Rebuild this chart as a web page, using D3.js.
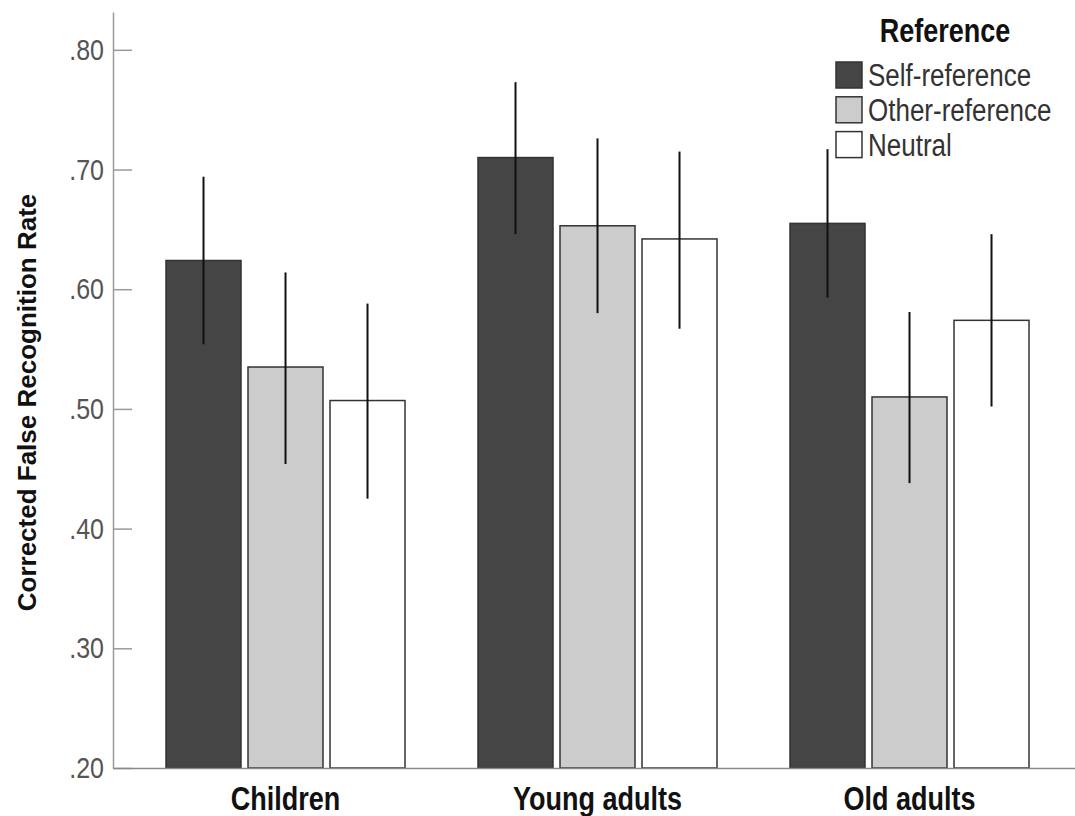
<!DOCTYPE html>
<html>
<head>
<meta charset="utf-8">
<script src="https://cdn.jsdelivr.net/npm/d3@7"></script>
<style>
  html, body { margin: 0; padding: 0; background: #fff; }
  svg { display: block; font-family: "Liberation Sans", Arial, sans-serif; }
</style>
</head>
<body>
<svg id="chart" width="1075" height="816"></svg>
<script>
// ---- Data ----
const groups = ["Children", "Young adults", "Old adults"];
const series = ["Self-reference", "Other-reference", "Neutral"];
const means = {
  "Self-reference":  [0.624, 0.710, 0.655],
  "Other-reference": [0.535, 0.653, 0.510],
  "Neutral":         [0.507, 0.642, 0.574]
};
const ciLow = {
  "Self-reference":  [0.554, 0.646, 0.593],
  "Other-reference": [0.454, 0.580, 0.438],
  "Neutral":         [0.425, 0.567, 0.502]
};
const ciHigh = {
  "Self-reference":  [0.694, 0.773, 0.717],
  "Other-reference": [0.614, 0.726, 0.581],
  "Neutral":         [0.588, 0.715, 0.646]
};
const yTicks = [0.2, 0.3, 0.4, 0.5, 0.6, 0.7, 0.8];
const colors = ["#454545", "#cccccc", "#ffffff"];

const rows = [];
groups.forEach((g, gi) => series.forEach((s, si) => rows.push({
  group: g, series: s, value: means[s][gi], lo: ciLow[s][gi], hi: ciHigh[s][gi]
})));

// ---- Layout ----
const svg = d3.select("#chart");
const plotLeft = 113, plotRight = 1075, plotBottom = 768, plotTop = 12;
const stretch = 1.2; // reference text is vertically elongated

const x0 = d3.scaleBand().domain(groups).range([plotLeft, plotRight])
  .paddingInner(0).paddingOuter(13 / 312).align(0.635);
const x1 = d3.scaleBand().domain(series).range([0, x0.bandwidth()])
  .paddingInner(7 / 82).paddingOuter(0.445);
const y = d3.scaleLinear().domain([0.2, 0.8316]).range([plotBottom, plotTop]);
const color = d3.scaleOrdinal().domain(series).range(colors);

// Bars
svg.append("g").selectAll("rect").data(rows).join("rect")
  .attr("x", d => x0(d.group) + x1(d.series))
  .attr("y", d => y(d.value))
  .attr("width", x1.bandwidth())
  .attr("height", d => y(0.2) - y(d.value))
  .attr("fill", d => color(d.series))
  .attr("stroke", "#333")
  .attr("stroke-width", 1.5);

// Error bars
svg.append("g").selectAll("line").data(rows).join("line")
  .attr("x1", d => x0(d.group) + x1(d.series) + x1.bandwidth() / 2)
  .attr("x2", d => x0(d.group) + x1(d.series) + x1.bandwidth() / 2)
  .attr("y1", d => y(d.lo))
  .attr("y2", d => y(d.hi))
  .attr("stroke", "#111")
  .attr("stroke-width", 2);

// Y axis
const yAxis = svg.append("g").attr("transform", `translate(${plotLeft},0)`)
  .call(d3.axisLeft(y).tickValues(yTicks)
    .tickFormat(d => d3.format(".2f")(d).replace(/^0/, ""))
    .tickSizeInner(-19).tickSizeOuter(0).tickPadding(9));
yAxis.select(".domain").attr("stroke", "#9a9a9a").attr("stroke-width", 1.5);
yAxis.selectAll(".tick line").attr("stroke", "#9a9a9a").attr("stroke-width", 1.5);
yAxis.selectAll(".tick text").attr("fill", "#555").style("font-size", "25px")
  .attr("transform", `scale(1,${stretch})`);

// X axis
const xAxis = svg.append("g").attr("transform", `translate(0,${plotBottom})`)
  .call(d3.axisBottom(x0).tickSize(0).tickPadding(16));
xAxis.select(".domain").attr("stroke", "#8a8a8a").attr("stroke-width", 1.5);
xAxis.selectAll(".tick text").attr("fill", "#111")
  .style("font-size", "27px").style("font-weight", "bold")
  .attr("transform", `scale(1,${stretch})`);

// Y title
svg.append("text")
  .attr("transform", `translate(36,${(193 + 612) / 2}) rotate(-90)`)
  .attr("text-anchor", "middle")
  .attr("fill", "#111")
  .style("font-size", "26px").style("font-weight", "bold")
  .text("Corrected False Recognition Rate");

// Legend
const legend = svg.append("g");
legend.append("text")
  .attr("transform", `translate(945,42) scale(1,${stretch})`)
  .attr("text-anchor", "middle").attr("fill", "#111")
  .style("font-size", "27px").style("font-weight", "bold")
  .text("Reference");
const items = legend.selectAll("g.item").data(series).join("g")
  .attr("class", "item")
  .attr("transform", (d, i) => `translate(836,${62 + i * 34.8})`);
items.append("rect").attr("width", 26).attr("height", 26)
  .attr("fill", d => color(d)).attr("stroke", "#333").attr("stroke-width", 1.5);
items.append("text")
  .attr("transform", `translate(32,24) scale(1,${stretch})`)
  .attr("fill", "#333").style("font-size", "26px")
  .text(d => d);
</script>
</body>
</html>
